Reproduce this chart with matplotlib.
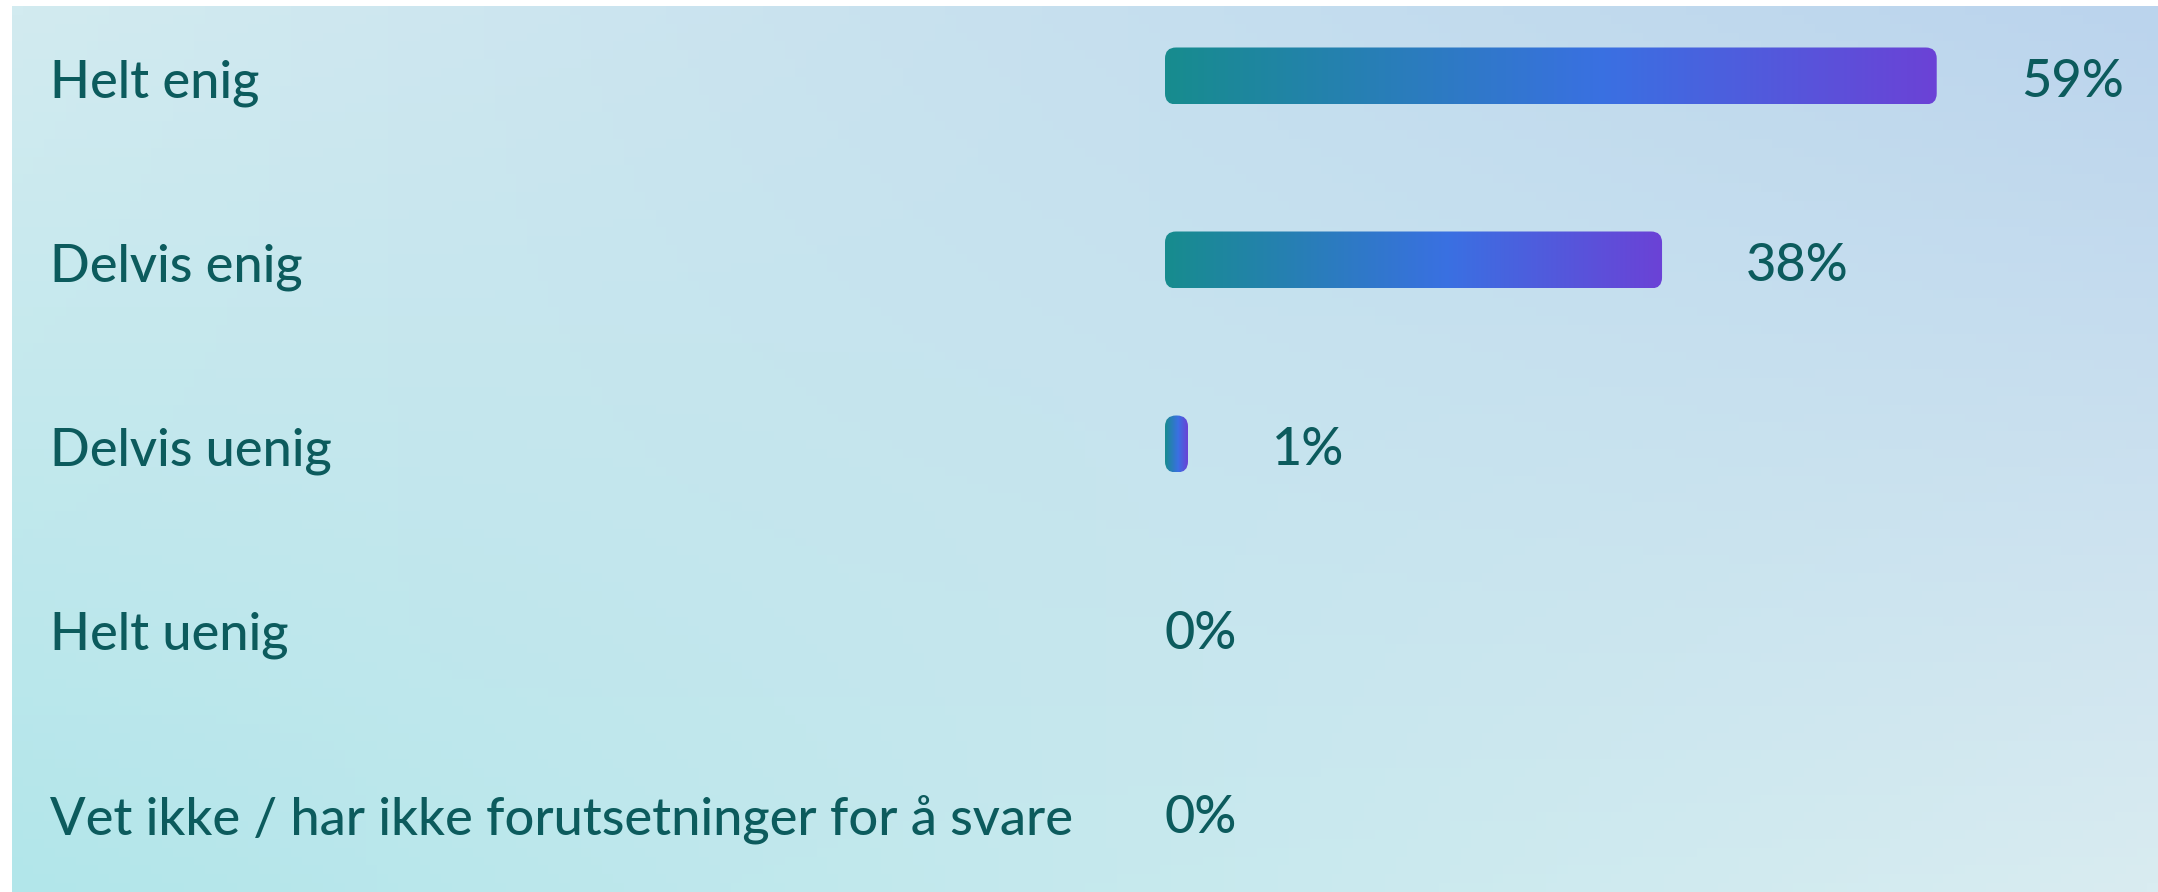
import numpy as np
import matplotlib
matplotlib.use("Agg")
import matplotlib.pyplot as plt
from matplotlib.patches import FancyBboxPatch
from matplotlib.colors import LinearSegmentedColormap
from matplotlib.transforms import blended_transform_factory

# survey answers and shares (%)
categories = ["Helt enig", "Delvis enig", "Delvis uenig", "Helt uenig",
              "Vet ikke / har ikke forutsetninger for å svare"]
values = [59, 38, 1, 0, 0]
value_labels = ["59%", "38%", "1%", "0%", "0%"]

W, H = 2158, 892
px_per_pct = 13.08   # bar scale
row_step = 184       # px between rows
first_row = 76       # px from top
bar_left = 1165
bar_h_px = 57
radius_px = 11
min_bar_px = 23
gap_px = 84
text_dy = 7 / row_step  # text sits a little below bar centre
text_color = "#0c5b5d"
font = "Lato"
fsize = 37.6

fig = plt.figure(figsize=(W / 100, H / 100), dpi=100)
fig.patch.set_facecolor("white")

# soft background gradient (bilinear between corners)
bg = fig.add_axes([12 / W, 0, 1 - 12 / W, 1 - 6 / H])
tl = np.array([210, 235, 240]) / 255
tr = np.array([187, 212, 237]) / 255
bl = np.array([178, 230, 234]) / 255
br = np.array([217, 236, 241]) / 255
u = np.linspace(0, 1, 200)[None, :, None]
v = np.linspace(0, 1, 100)[:, None, None]
grid = (1 - v) * ((1 - u) * tl + u * tr) + v * ((1 - u) * bl + u * br)
bg.imshow(grid, aspect="auto", extent=[0, 1, 0, 1], origin="upper")
bg.axis("off")

# bar axes
ax = fig.add_axes([bar_left / W, 0, 1 - bar_left / W, 1])
ax.set_xlim(0, (W - bar_left) / px_per_pct)
ax.set_ylim((H - first_row) / row_step, -first_row / row_step)
ax.axis("off")

cmap = LinearSegmentedColormap.from_list(
    "bar", [(0, "#178c8e"), (0.57, "#3a70e2"), (1, "#6b42d6")])
grad = np.linspace(0, 1, 256)[None, :]

bar_h = bar_h_px / row_step
rnd = radius_px / px_per_pct
aspect = px_per_pct / row_step
min_w = min_bar_px / px_per_pct

for i, (val, lab) in enumerate(zip(values, value_labels)):
    if val > 0:
        w = max(val, min_w)
        patch = FancyBboxPatch((0, i - bar_h / 2), w, bar_h,
                               boxstyle=f"round,pad=0,rounding_size={min(rnd, w / 2)}",
                               mutation_aspect=aspect, linewidth=0,
                               facecolor="none")
        ax.add_patch(patch)
        im = ax.imshow(grad, cmap=cmap, aspect="auto",
                       extent=[0, w, i + bar_h / 2, i - bar_h / 2])
        im.set_clip_path(patch)
        tx = w + gap_px / px_per_pct
    else:
        tx = 0
    ax.text(tx, i + text_dy, lab, va="center", ha="left", fontsize=fsize,
            color=text_color, family=font, fontweight="medium")

# category labels on the left
trans = blended_transform_factory(fig.transFigure, ax.transData)
for i, cat in enumerate(categories):
    ax.text(50 / W, i + text_dy, cat, transform=trans, va="center", ha="left",
            fontsize=fsize, color=text_color, family=font, fontweight="medium")

fig.savefig("out.png", dpi=100, facecolor=fig.get_facecolor())
